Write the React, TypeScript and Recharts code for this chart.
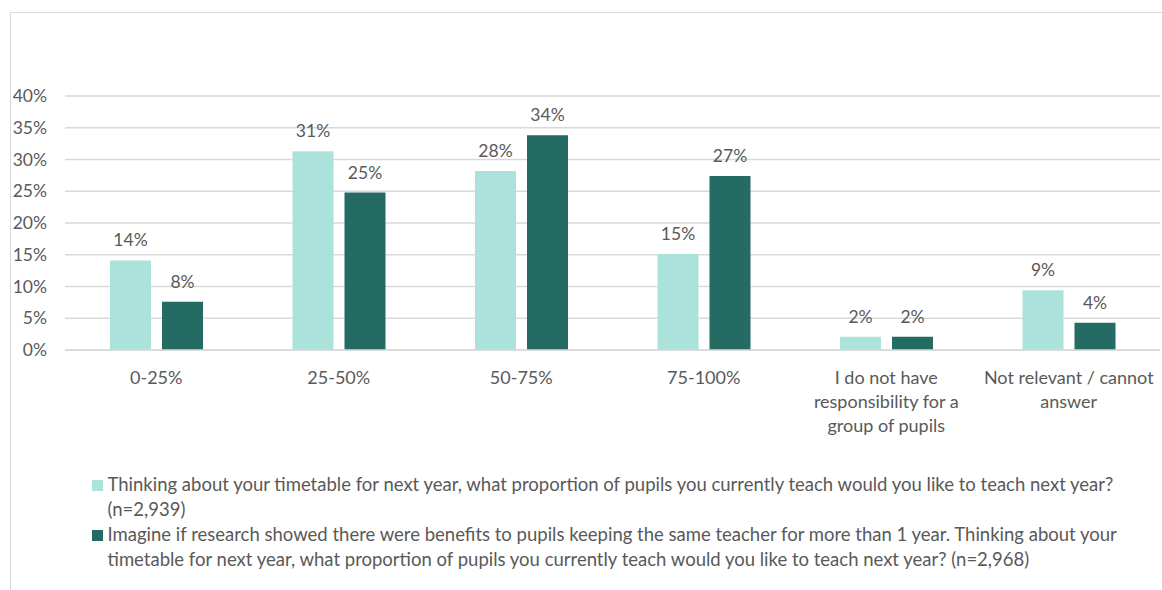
import React from 'react';
import {
  BarChart,
  Bar,
  XAxis,
  YAxis,
  CartesianGrid,
  LabelList,
} from 'recharts';

const CATEGORIES = [
  '0-25%',
  '25-50%',
  '50-75%',
  '75-100%',
  'I do not have responsibility for a group of pupils',
  'Not relevant / cannot answer',
];

// share of respondents (%)
const CURRENT = [14.1, 31.3, 28.2, 15.1, 2.1, 9.4];
const IF_BENEFITS = [7.6, 24.8, 33.8, 27.4, 2.1, 4.3];

const Y_TICKS = [0, 5, 10, 15, 20, 25, 30, 35, 40];

const SERIES_LABELS = [
  [
    'Thinking about your timetable for next year, what proportion of pupils you currently teach would you like to teach next year?',
    '(n=2,939)',
  ],
  [
    'Imagine if research showed there were benefits to pupils keeping the same teacher for more than 1 year. Thinking about your',
    'timetable for next year, what proportion of pupils you currently teach would you like to teach next year? (n=2,968)',
  ],
];

const LIGHT = '#ace2dc';
const DARK = '#246b63';
const TEXT = '#595959';
const GRID = '#d9d9d9';
const FONT = 'Lato, "Liberation Sans", sans-serif';
const FONT_SIZE = 17.5;
const TICK_SIZE = 18;

const data = CATEGORIES.map((category, i) => ({
  category,
  current: CURRENT[i],
  ifBenefits: IF_BENEFITS[i],
}));

const pct = (v: any) => `${Math.round(Number(v))}%`;

// greedy word wrap measured with the real font
let ctx: CanvasRenderingContext2D | null = null;
const wrap = (text: string, maxWidth: number) => {
  if (!ctx) ctx = document.createElement('canvas').getContext('2d');
  if (ctx) ctx.font = `${TICK_SIZE}px Lato`;
  const measure = (s: string) => (ctx ? ctx.measureText(s).width : s.length * 8);
  const lines: string[] = [];
  let cur = '';
  text.split(' ').forEach((w) => {
    const next = cur ? `${cur} ${w}` : w;
    if (cur && measure(next) > maxWidth) {
      lines.push(cur);
      cur = w;
    } else {
      cur = next;
    }
  });
  if (cur) lines.push(cur);
  return lines;
};

const CategoryTick = (props: any) => {
  const { x, y, payload } = props;
  const lines = wrap(String(payload.value), 175);
  return (
    <text
      x={x}
      y={y}
      textAnchor="middle"
      fill={TEXT}
      style={{ fontFamily: FONT, fontSize: TICK_SIZE }}
    >
      {lines.map((line, i) => (
        <tspan key={i} x={x} dy={i === 0 ? 12.8 : 24}>
          {line}
        </tspan>
      ))}
    </text>
  );
};

export default function App() {
  return (
    <div
      style={{
        position: 'absolute',
        left: 0,
        top: 0,
        width: 1162,
        height: 590,
        background: '#fff',
        fontFamily: FONT,
      }}
    >
      {/* chart frame, only top and left edges are visible */}
      <div
        style={{
          position: 'absolute',
          left: 10,
          top: 12,
          width: 1152,
          height: 578,
          borderTop: `1px solid ${GRID}`,
          borderLeft: `1px solid ${GRID}`,
          boxSizing: 'border-box',
        }}
      />
      <div style={{ position: 'absolute', left: 0, top: 0 }}>
        <BarChart
          width={1162}
          height={590}
          data={data}
          margin={{ top: 96, right: 2, left: 10, bottom: 140 }}
          barSize={41}
          barGap={11}
          style={{ fontFamily: FONT }}
        >
          <CartesianGrid vertical={false} stroke={GRID} strokeWidth={1.5} />
          <XAxis
            dataKey="category"
            height={100}
            tickLine={false}
            axisLine={{ stroke: GRID, strokeWidth: 1.5 }}
            tickMargin={15}
            interval={0}
            tick={<CategoryTick />}
          />
          <YAxis
            width={55}
            domain={[0, 40]}
            ticks={Y_TICKS}
            tickFormatter={pct}
            tickLine={false}
            axisLine={false}
            tickMargin={12}
            tick={{ fill: TEXT, fontSize: FONT_SIZE, fontFamily: FONT }}
          />
          <Bar dataKey="current" fill={LIGHT} isAnimationActive={false}>
            <LabelList
              dataKey="current"
              position="top"
              offset={14}
              formatter={pct}
              fill={TEXT}
              fontSize={FONT_SIZE}
              fontFamily={FONT}
            />
          </Bar>
          <Bar dataKey="ifBenefits" fill={DARK} isAnimationActive={false}>
            <LabelList
              dataKey="ifBenefits"
              position="top"
              offset={14}
              formatter={pct}
              fill={TEXT}
              fontSize={FONT_SIZE}
              fontFamily={FONT}
            />
          </Bar>
        </BarChart>
      </div>
      {/* legend */}
      <div style={{ position: 'absolute', left: 92, top: 472 }}>
        {SERIES_LABELS.map((lines, i) => (
          <div key={i} style={{ display: 'flex', alignItems: 'flex-start' }}>
            <div
              style={{
                width: 10.5,
                height: 10.5,
                marginTop: 8,
                marginRight: 5,
                background: i === 0 ? LIGHT : DARK,
                flexShrink: 0,
              }}
            />
            <div
              style={{
                color: TEXT,
                fontSize: 18.5,
                lineHeight: '25px',
                whiteSpace: 'nowrap',
              }}
            >
              {lines.map((line, j) => (
                <div key={j}>{line}</div>
              ))}
            </div>
          </div>
        ))}
      </div>
    </div>
  );
}
